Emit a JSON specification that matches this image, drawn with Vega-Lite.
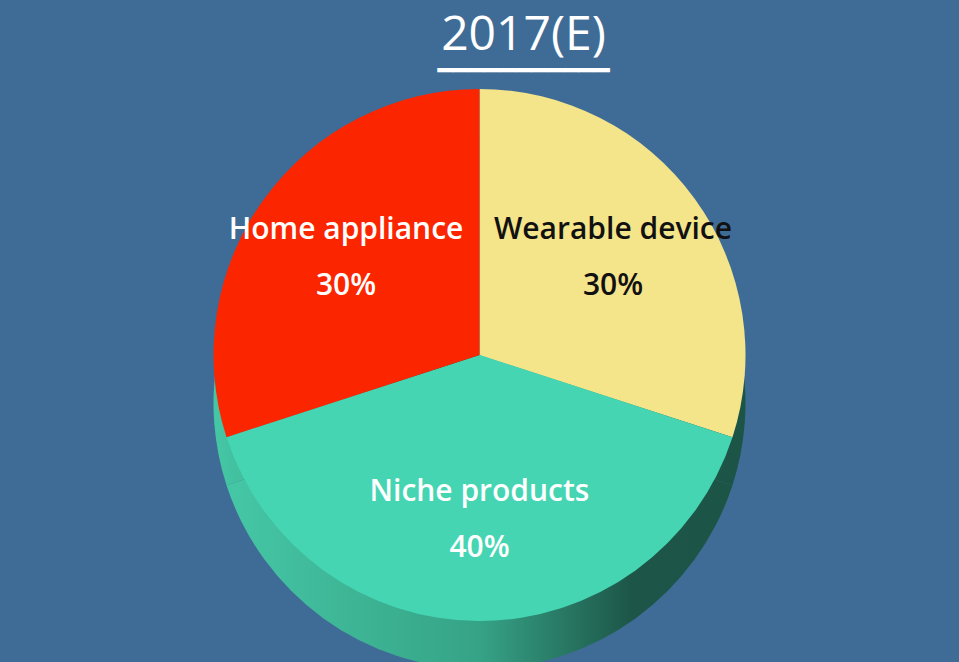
{
  "$schema": "https://vega.github.io/schema/vega-lite/v6.json",
  "width": 959,
  "height": 662,
  "autosize": {"type": "fit", "contains": "padding"},
  "padding": {"top": 12, "left": 0, "right": 0, "bottom": 0},
  "background": "#3f6c96",
  "config": {"view": {"stroke": null}},
  "title": {
    "text": "2017(E)",
    "subtitle": "━━━━━━━━━━━",
    "color": "white",
    "fontSize": 48,
    "font": "Open Sans",
    "fontWeight": 500,
    "anchor": "middle",
    "dx": 44,
    "subtitleColor": "white",
    "subtitleFont": "DejaVu Sans Mono",
    "subtitleFontSize": 26,
    "subtitlePadding": -2,
    "offset": 4
  },
  "data": {
    "values": [
      {"category": "Wearable device", "share": 0.3, "slot": 1},
      {"category": "Niche products", "share": 0.4, "slot": 2},
      {"category": "Home appliance", "share": 0.3, "slot": 3}
    ]
  },
  "encoding": {
    "theta": {"field": "share", "type": "quantitative", "stack": true},
    "order": {"field": "slot", "type": "ordinal"}
  },
  "layer": [
    {
      "mark": {
        "type": "arc",
        "radius": 266,
        "yOffset": 28,
        "fill": {
          "gradient": "linear",
          "x1": 0, "y1": 0, "x2": 1, "y2": 0,
          "stops": [
            {"offset": 0, "color": "#45c7a5"},
            {"offset": 0.5, "color": "#36a386"},
            {"offset": 0.8, "color": "#1d5649"},
            {"offset": 1, "color": "#1c5446"}
          ]
        }
      }
    },
    {
      "mark": {"type": "arc", "radius": 266, "yOffset": -20},
      "encoding": {
        "fill": {
          "field": "category",
          "type": "nominal",
          "scale": {
            "domain": ["Wearable device", "Niche products", "Home appliance"],
            "range": ["#f4e48a", "#45d5b2", "#fb2500"]
          },
          "legend": null
        }
      }
    },
    {
      "mark": {"type": "text", "radius": 165, "yOffset": -20, "dy": -28, "font": "Open Sans", "fontSize": 30, "fontWeight": 600},
      "encoding": {
        "text": {"field": "category", "type": "nominal"},
        "color": {
          "field": "category",
          "type": "nominal",
          "scale": {
            "domain": ["Wearable device", "Niche products", "Home appliance"],
            "range": ["#111111", "#ffffff", "#ffffff"]
          },
          "legend": null
        }
      }
    },
    {
      "mark": {"type": "text", "radius": 165, "yOffset": -20, "dy": 28, "font": "Open Sans", "fontSize": 30, "fontWeight": 600},
      "encoding": {
        "text": {"field": "share", "type": "quantitative", "format": ".0%"},
        "color": {
          "field": "category",
          "type": "nominal",
          "scale": {
            "domain": ["Wearable device", "Niche products", "Home appliance"],
            "range": ["#111111", "#ffffff", "#ffffff"]
          },
          "legend": null
        }
      }
    }
  ]
}
